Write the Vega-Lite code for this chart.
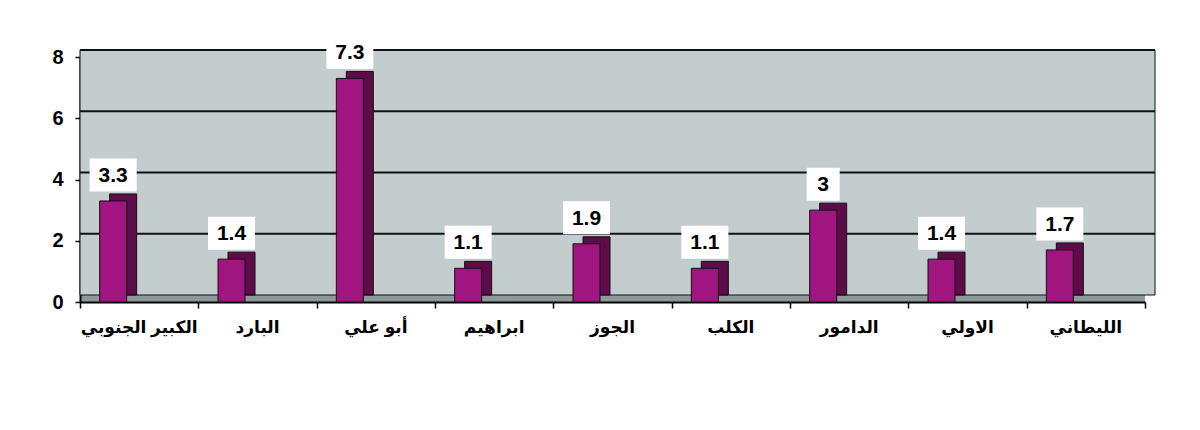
{
  "$schema": "https://vega.github.io/schema/vega-lite/v6.json",
  "autosize": {"type": "none"},
  "width": 1065,
  "height": 245,
  "padding": {"left": 80, "top": 57, "right": 55, "bottom": 128},
  "background": "white",
  "config": {
    "view": {"fill": "#8E9A9A", "stroke": null},
    "font": "Arial, Liberation Sans, DejaVu Sans"
  },
  "data": {
    "values": [
      {"river": "الكبير الجنوبي", "v": 3.3},
      {"river": "البارد", "v": 1.4},
      {"river": "أبو علي", "v": 7.3},
      {"river": "ابراهيم", "v": 1.1},
      {"river": "الجوز", "v": 1.9},
      {"river": "الكلب", "v": 1.1},
      {"river": "الدامور", "v": 3},
      {"river": "الاولي", "v": 1.4},
      {"river": "الليطاني", "v": 1.7}
    ]
  },
  "layer": [
    {
      "data": {"values": [{}]},
      "mark": {"type": "rect", "fill": "#C3CDCD", "stroke": "#111111", "strokeWidth": 1,
               "xOffset": 10, "x2Offset": 10, "yOffset": -7, "y2Offset": -7},
      "encoding": {
        "y": {"datum": 0, "type": "quantitative", "scale": {"domain": [0, 8]}},
        "y2": {"datum": 8}
      }
    },
    {
      "data": {"values": [{"g": 2}, {"g": 4}, {"g": 6}, {"g": 8}]},
      "mark": {"type": "rule", "color": "#111111", "strokeWidth": 2,
               "xOffset": 10, "x2Offset": 10, "yOffset": -7, "y2Offset": -7},
      "encoding": {
        "y": {"field": "g", "type": "quantitative", "scale": {"domain": [0, 8]}}
      }
    },
    {
      "mark": {"type": "bar", "width": 27, "color": "#5E0B4A", "stroke": "#111111", "strokeWidth": 1,
               "xOffset": -16, "yOffset": -7, "y2Offset": -7},
      "encoding": {
        "x": {"field": "river", "type": "nominal", "sort": null,
              "scale": {"type": "band", "paddingInner": 0, "paddingOuter": 0}},
        "y": {"field": "v", "type": "quantitative", "scale": {"domain": [0, 8]}}
      }
    },
    {
      "mark": {"type": "bar", "width": 27, "color": "#A0157F", "stroke": "#111111", "strokeWidth": 1,
               "xOffset": -26},
      "encoding": {
        "x": {
          "field": "river", "type": "nominal", "sort": null, "title": null,
          "scale": {"type": "band", "paddingInner": 0, "paddingOuter": 0},
          "axis": {
            "labels": false, "domainColor": "#000000", "domainWidth": 2, "tickColor": "#000000",
            "tickSize": 6, "tickWidth": 1.5, "tickBand": "extent"
          }
        },
        "y": {
          "field": "v", "type": "quantitative", "scale": {"domain": [0, 8]}, "title": null,
          "axis": {
            "values": [0, 2, 4, 6, 8], "grid": false, "labelFontSize": 20, "labelFontWeight": "bold",
            "labelColor": "#000000", "labelPadding": 12, "domainColor": "#000000", "domainWidth": 2,
            "tickColor": "#000000", "tickSize": 5, "tickWidth": 1.5
          }
        }
      }
    },
    {
      "mark": {"type": "tick", "color": "white", "opacity": 1, "thickness": 33, "xOffset": -26, "yOffset": -26},
      "encoding": {
        "x": {"field": "river", "type": "nominal", "sort": null,
              "scale": {"type": "band", "paddingInner": 0, "paddingOuter": 0}},
        "y": {"field": "v", "type": "quantitative", "scale": {"domain": [0, 8]}},
        "size": {"condition": {"test": "datum.v === 3", "value": 33}, "value": 47}
      }
    },
    {
      "mark": {"type": "text", "fontSize": 21, "fontWeight": "bold", "color": "#000000", "baseline": "middle", "align": "center",
               "xOffset": -26, "yOffset": -25},
      "encoding": {
        "x": {"field": "river", "type": "nominal", "sort": null,
              "scale": {"type": "band", "paddingInner": 0, "paddingOuter": 0}},
        "y": {"field": "v", "type": "quantitative", "scale": {"domain": [0, 8]}},
        "text": {"field": "v", "type": "quantitative"}
      }
    },
    {
      "mark": {"type": "text", "fontSize": 17, "fontWeight": "bold", "color": "#000000", "baseline": "middle", "align": "center",
               "dir": "rtl", "yOffset": 26},
      "encoding": {
        "x": {"field": "river", "type": "nominal", "sort": null,
              "scale": {"type": "band", "paddingInner": 0, "paddingOuter": 0}},
        "y": {"datum": 0, "type": "quantitative", "scale": {"domain": [0, 8]}},
        "text": {"field": "river", "type": "nominal"}
      }
    }
  ]
}
